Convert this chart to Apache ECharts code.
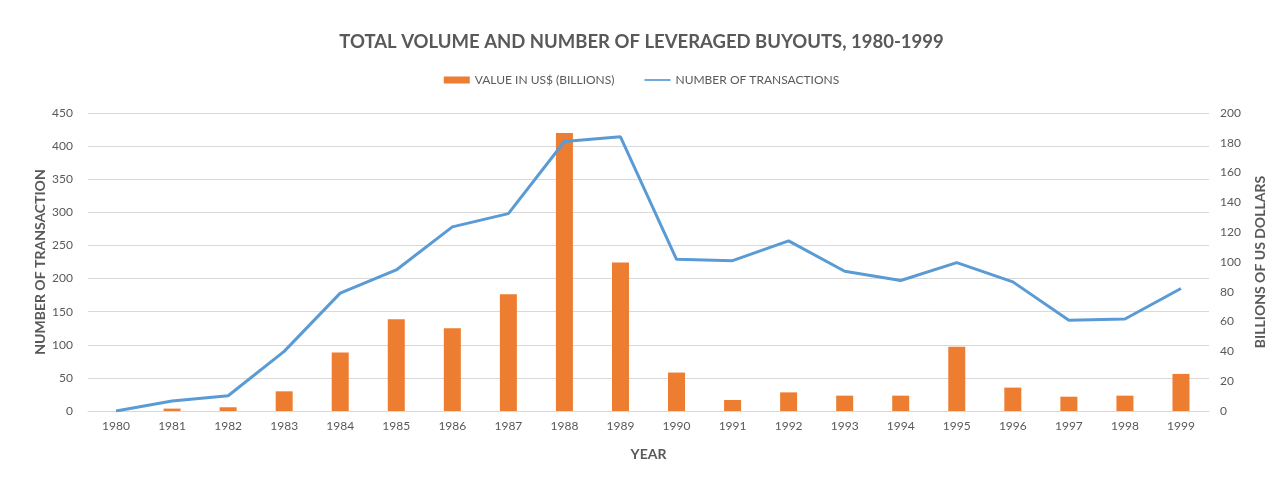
<!DOCTYPE html>
<html>
<head>
<meta charset="utf-8">
<script src="https://cdn.jsdelivr.net/npm/echarts@6/dist/echarts.min.js"></script>
<style>
html,body{margin:0;padding:0;background:#fff;}
#chart{width:1283px;height:478px;}
</style>
</head>
<body>
<div id="chart"></div>
<script>
const years = ['1980','1981','1982','1983','1984','1985','1986','1987','1988','1989','1990','1991','1992','1993','1994','1995','1996','1997','1998','1999'];
const valueBillions = [0, 1.6, 2.5, 13.2, 39.2, 61.6, 55.5, 78.4, 186.6, 99.7, 25.8, 7.4, 12.5, 10.3, 10.3, 43.2, 15.7, 9.6, 10.3, 24.9];
const numTransactions = [0, 15, 23, 90, 178, 213, 278, 298, 407, 414, 229, 227, 257, 211, 197, 224, 195, 137, 139, 185];

const FONT = 'Lato';
const GREY = '#595959';
const chart = echarts.init(document.getElementById('chart'));
chart.setOption({
  animation: false,
  backgroundColor: '#fff',
  textStyle: { fontFamily: FONT },
  title: {
    text: 'TOTAL VOLUME AND NUMBER OF LEVERAGED BUYOUTS, 1980-1999',
    left: 'center', top: 28,
    textStyle: { fontFamily: FONT, fontWeight: 'bold', fontSize: 18.5, color: GREY }
  },
  graphic: [{
    type: 'text', x: 40, y: 262, rotation: Math.PI / 2,
    style: {
      text: 'NUMBER OF TRANSACTION', fill: GREY,
      font: 'bold 14px Lato', align: 'center', verticalAlign: 'middle'
    }
  }],
  legend: {
    top: 69, left: 'center', itemGap: 30,
    textStyle: { fontFamily: FONT, fontSize: 12, color: GREY },
    data: [
      { name: 'VALUE IN US$ (BILLIONS)', icon: 'rect', itemStyle: { color: '#ED7D31' } },
      { name: 'NUMBER OF TRANSACTIONS', icon: 'path://M0,0 L30,0 L30,2 L0,2 Z', itemStyle: { color: '#5B9BD5' } }
    ],
    itemWidth: 26, itemHeight: 7
  },
  grid: { left: 88, right: 74, top: 113, bottom: 67 },
  xAxis: {
    type: 'category', data: years,
    name: 'YEAR', nameLocation: 'middle', nameGap: 36,
    nameTextStyle: { fontFamily: FONT, fontWeight: 'bold', fontSize: 14, color: GREY },
    axisLine: { lineStyle: { color: '#d9d9d9', width: 1 } },
    axisTick: { show: false },
    axisLabel: { color: GREY, fontSize: 12, margin: 9 }
  },
  yAxis: [
    {
      type: 'value', min: 0, max: 450, interval: 50, position: 'left',
      axisLine: { show: false }, axisTick: { show: false },
      axisLabel: { color: GREY, fontSize: 12, margin: 15 },
      splitLine: { lineStyle: { color: '#d9d9d9', width: 1 } }
    },
    {
      type: 'value', min: 0, max: 200, interval: 20, position: 'right',
      name: 'BILLIONS OF US DOLLARS', nameLocation: 'middle', nameGap: 44, nameMoveOverlap: false,
      nameTextStyle: { fontFamily: FONT, fontWeight: 'bold', fontSize: 14, color: GREY },
      axisLine: { show: false }, axisTick: { show: false },
      axisLabel: { color: GREY, fontSize: 12, margin: 11 },
      splitLine: { show: false }
    }
  ],
  series: [
    {
      name: 'VALUE IN US$ (BILLIONS)', type: 'bar', yAxisIndex: 1,
      data: valueBillions, barWidth: 17,
      itemStyle: { color: '#ED7D31' }
    },
    {
      name: 'NUMBER OF TRANSACTIONS', type: 'line', yAxisIndex: 0,
      data: numTransactions, symbol: 'none',
      lineStyle: { color: '#5B9BD5', width: 3 },
      itemStyle: { color: '#5B9BD5' }
    }
  ]
});
</script>
</body>
</html>
